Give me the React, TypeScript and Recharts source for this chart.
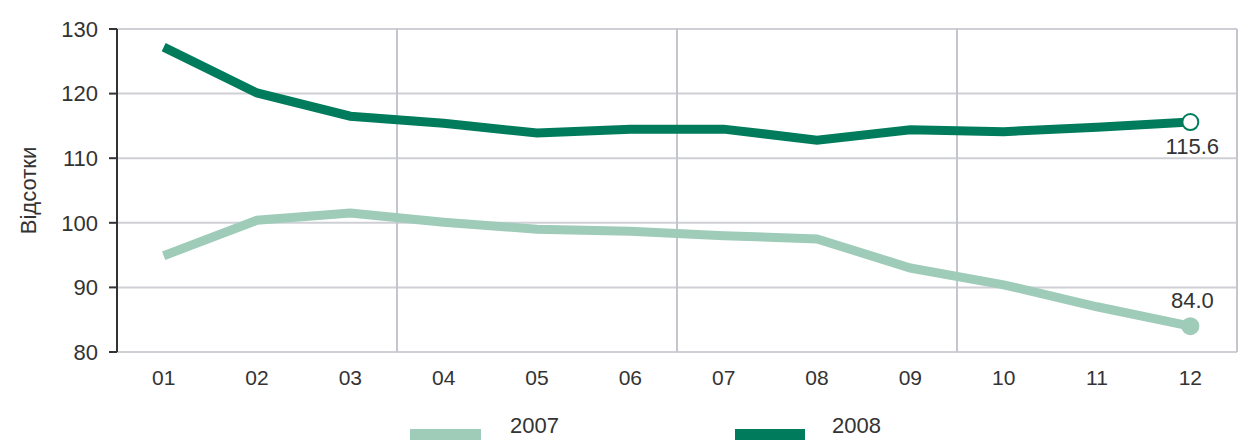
import React from 'react'
import {
  LineChart,
  Line,
  XAxis,
  YAxis,
  CartesianGrid,
  ReferenceLine,
  LabelList,
} from 'recharts'

const months = [1, 2, 3, 4, 5, 6, 7, 8, 9, 10, 11, 12]
const values2007 = [94.9, 100.4, 101.5, 100.1, 99.0, 98.7, 98.0, 97.5, 93.0, 90.4, 87.0, 84.0]
const values2008 = [127.2, 120.1, 116.5, 115.4, 113.9, 114.5, 114.5, 112.8, 114.4, 114.1, 114.8, 115.6]
const yTicks = [80, 90, 100, 110, 120, 130]
const quarterLines = [3.5, 6.5, 9.5, 12.5]

const LIGHT = '#9fcbb9'
const DARK = '#007c5c'
const FONT = '"Liberation Sans", Arial, sans-serif'

const data = months.map((m, i) => ({ month: m, y2007: values2007[i], y2008: values2008[i] }))
const last = months.length - 1

function EndDot2007(props: any) {
  if (props.index !== last) return null
  return <circle cx={props.cx} cy={props.cy} r={9} fill={LIGHT} stroke="none" />
}

function EndDot2008(props: any) {
  if (props.index !== last) return null
  return <circle cx={props.cx} cy={props.cy} r={8} fill="#fff" stroke={DARK} strokeWidth={2} />
}

function endLabel(dy: number) {
  return (props: any) => {
    if (props.index !== last) return null
    return (
      <text x={props.x + 2} y={props.y + dy} textAnchor="middle" fontSize={22} fill="#333" fontFamily={FONT}>
        {Number(props.value).toFixed(1)}
      </text>
    )
  }
}

export default function App() {
  return (
    <div style={{ position: 'absolute', left: 0, top: 0, width: 1248, height: 441, background: '#fff', fontFamily: FONT }}>
      <LineChart width={1248} height={441} data={data} margin={{ top: 29, right: 11, left: 40, bottom: 59 }}>
        <CartesianGrid vertical={false} stroke="#cfd0d6" strokeWidth={2} />
        {quarterLines.map(x => (
          <ReferenceLine key={x} x={x} stroke="#c3c6cf" strokeWidth={2} />
        ))}
        <XAxis
          dataKey="month"
          type="number"
          domain={[0.5, 12.5]}
          ticks={months}
          tickFormatter={(v: number) => String(v).padStart(2, '0')}
          axisLine={false}
          tickLine={false}
          height={30}
          tickMargin={12}
          tick={{ fontSize: 21, fill: '#333', fontFamily: FONT }}
        />
        <YAxis
          domain={[80, 130]}
          ticks={yTicks}
          width={77}
          axisLine={{ stroke: '#333', strokeWidth: 2 }}
          tickLine={{ stroke: '#333', strokeWidth: 2 }}
          tickSize={8}
          tickMargin={11}
          tick={{ fontSize: 22, fill: '#333', fontFamily: FONT }}
          label={{
            value: 'Відсотки',
            angle: -90,
            position: 'insideLeft',
            offset: -12,
            style: { fontSize: 22, fill: '#333', fontFamily: FONT, textAnchor: 'middle' },
          }}
        />
        <Line
          dataKey="y2007"
          stroke={LIGHT}
          strokeWidth={9}
          dot={<EndDot2007 />}
          activeDot={false}
          isAnimationActive={false}
        >
          <LabelList dataKey="y2007" content={endLabel(-18)} />
        </Line>
        <Line
          dataKey="y2008"
          stroke={DARK}
          strokeWidth={9}
          dot={<EndDot2008 />}
          activeDot={false}
          isAnimationActive={false}
        >
          <LabelList dataKey="y2008" content={endLabel(32)} />
        </Line>
      </LineChart>
      <div style={{ position: 'absolute', left: 410, top: 429, width: 71, height: 11, background: LIGHT }} />
      <div style={{ position: 'absolute', left: 510, top: 414, fontSize: 22, lineHeight: '24px', color: '#333' }}>2007</div>
      <div style={{ position: 'absolute', left: 735, top: 429, width: 70, height: 11, background: DARK }} />
      <div style={{ position: 'absolute', left: 832, top: 414, fontSize: 22, lineHeight: '24px', color: '#333' }}>2008</div>
    </div>
  )
}
